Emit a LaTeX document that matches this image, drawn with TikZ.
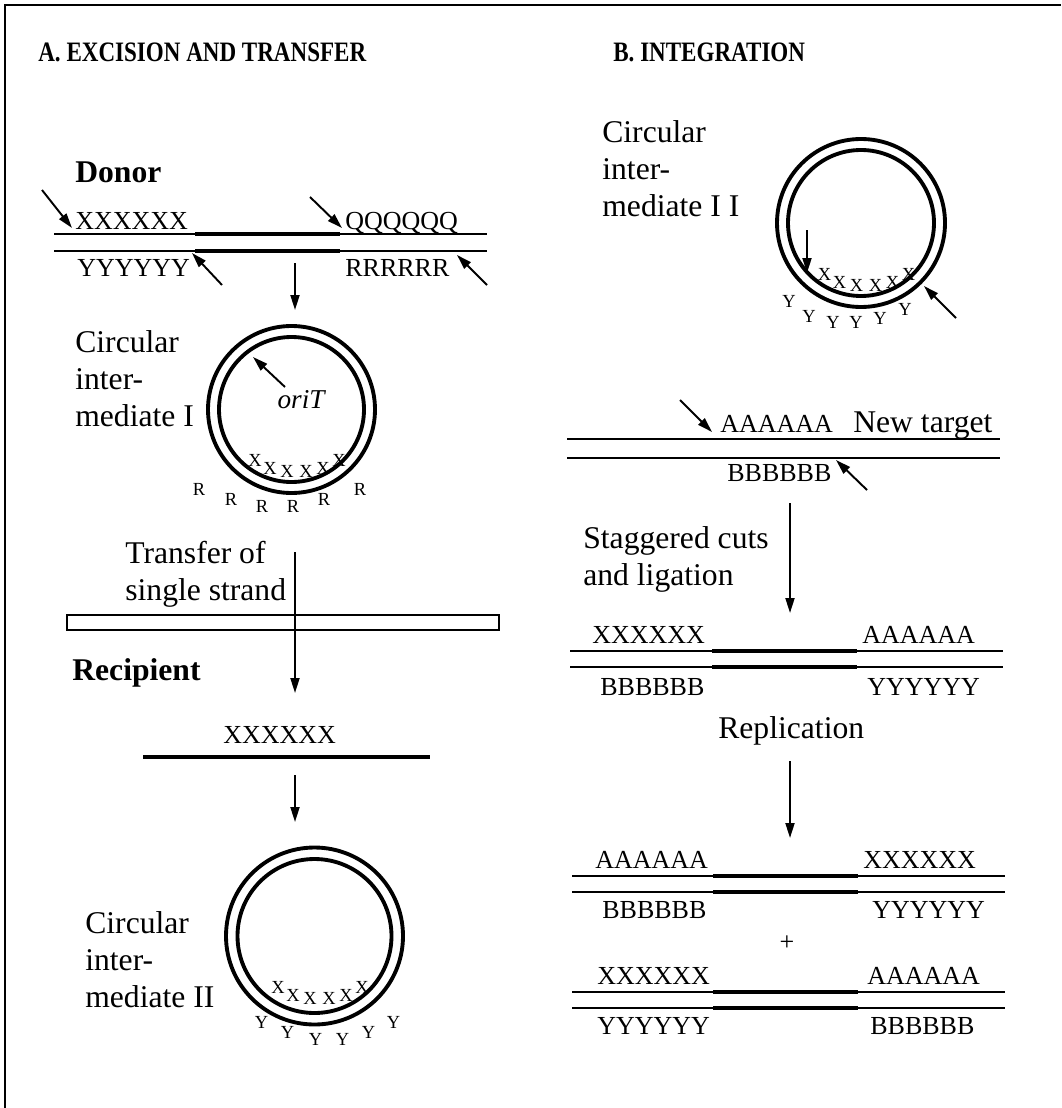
\documentclass[tikz,border=0pt]{standalone}
\usepackage{fontspec}
\setmainfont{Liberation Serif}
\usetikzlibrary{arrows.meta, calc}

\begin{document}
\begin{tikzpicture}[x=0.02cm, y=-0.02cm,
    strand/.style={line width=1.1pt},
    core/.style={line width=2.4pt},
    ring/.style={line width=2.2pt},
    ptr/.style={line width=1.1pt, -{Triangle[length=3mm, width=1.8mm]}},
    seq/.style={font=\fontsize{14.8}{16}\selectfont, inner sep=0pt, anchor=base west},
    txt/.style={font=\fontsize{18}{21}\selectfont, inner sep=0pt, anchor=base west},
    lbl/.style={font=\fontsize{18}{21}\selectfont, inner sep=0pt, anchor=north west, align=left},
    bold/.style={font=\fontsize{18}{21}\selectfont\bfseries, inner sep=0pt, anchor=base west},
    head/.style={font=\fontsize{16}{18}\selectfont\bfseries, inner sep=0pt, anchor=base west},
    site/.style={font=\fontsize{10.5}{12}\selectfont, inner sep=0pt}]
  \useasboundingbox (0,0) rectangle (1061,1108);
  \draw[line width=0.8pt] (5,1108) -- (5,5) -- (1061,5);

  % headings
  \node[head] (headA) at (38,62) {\scalebox{0.82}[1]{A. EXCISION AND TRANSFER}};
  \node[head] (headB) at (613,62) {\scalebox{0.82}[1]{B. INTEGRATION}};

  % ---- A: donor
  \node[bold] (donor) at (75,183) {Donor};
  \draw[strand] (54,234) -- (487,234) (54,251) -- (487,251);
  \draw[core] (195,234) -- (340,234) (195,251) -- (340,251);
  \node[seq] (dX) at (75,229.5) {XXXXXX};
  \node[seq] (dQ) at (345,229.5) {QQQQQQ};
  \node[seq] (dY) at (77,276) {YYYYYY};
  \node[seq] (dR) at (345,276) {RRRRRR};
  \coordinate (cut1s) at (42,190);  \coordinate (cut1) at (72,228);
  \coordinate (cut2s) at (310,197); \coordinate (cut2) at (342,228);
  \coordinate (cut3s) at (222,285); \coordinate (cut3) at (192,253);
  \coordinate (cut4s) at (487,285); \coordinate (cut4) at (457,255);
  \draw[ptr] (cut1s) -- (cut1);
  \draw[ptr] (cut2s) -- (cut2);
  \draw[ptr] (cut3s) -- (cut3);
  \draw[ptr] (cut4s) -- (cut4);
  \coordinate (st1) at (295,263); \coordinate (en1) at (295,310);
  \draw[ptr] (st1) -- (en1);

  % circular intermediate I
  \coordinate (cI) at (291.5,409.5);
  \draw[ring] (cI) circle (83.5) (cI) circle (72.5);
  \node[lbl] (ciI) at (75,330.5) {Circular\\inter-\\mediate I};
  \node[font=\fontsize{15.5}{17}\selectfont\itshape, inner sep=0pt] (oriT) at (301,400) {oriT};
  \coordinate (oriTs) at (285,387); \coordinate (oriTe) at (253,357);
  \draw[ptr] (oriTs) -- (oriTe);
  \foreach \dx/\dy [count=\i] in {-36.5/51, -21.5/59, -4.5/62, 14.5/62, 31.5/59, 47.5/51}
    \node[site] (xI\i) at ($(cI)+(\dx,\dy)$) {X};
  \foreach \dx/\dy [count=\i] in {-92.5/79.5, -60.5/89.5, -29.5/96.5, 1.5/96.5, 32.5/89.5, 68.5/79.5}
    \node[site] (rI\i) at ($(cI)+(\dx,\dy)$) {R};

  % transfer
  \node[lbl] (transfer) at (125,540.5) {Transfer of\\single strand};
  \draw[strand] (67,615) rectangle (499,630);
  \coordinate (st2) at (295,552); \coordinate (en2) at (295,693);
  \draw[ptr] (st2) -- (en2);

  % recipient
  \node[bold] (recip) at (72,680) {Recipient};
  \node[seq] (rX) at (223,743) {XXXXXX};
  \draw[core] (143,757) -- (430,757);
  \coordinate (st3) at (295,775); \coordinate (en3) at (295,822);
  \draw[ptr] (st3) -- (en3);

  % circular intermediate II
  \coordinate (cII) at (314.5,936);
  \draw[ring] (cII) circle (88.5) (cII) circle (77);
  \node[lbl] (ciII) at (85,911.5) {Circular\\inter-\\mediate II};
  \foreach \dx/\dy [count=\i] in {-36.5/51, -21.5/59, -4.5/62, 14.5/62, 31.5/59, 47.5/51}
    \node[site] (xII\i) at ($(cII)+(\dx,\dy)$) {X};
  \foreach \dx/\dy [count=\i] in {-53/86, -27/96, 1/103, 28/103, 54/96, 79/86}
    \node[site] (yII\i) at ($(cII)+(\dx,\dy)$) {Y};

  % ---- B: integration
  \node[lbl] (ciIII) at (602,120) {Circular\\inter-\\mediate I I};
  \coordinate (cIII) at (861,223);
  \draw[ring] (cIII) circle (84) (cIII) circle (73);
  \foreach \dx/\dy [count=\i] in {-36.5/51, -21.5/59, -4.5/62, 14.5/62, 31.5/59, 47.5/51}
    \node[site] (xIII\i) at ($(cIII)+(\dx,\dy)$) {X};
  \foreach \dx/\dy [count=\i] in {-72/78, -52/93, -28/99, -5/99, 19/95, 44/86}
    \node[site] (yIII\i) at ($(cIII)+(\dx,\dy)$) {Y};
  \coordinate (inS) at (807,230); \coordinate (inE) at (807,273);
  \draw[ptr] (inS) -- (inE);
  \coordinate (outS) at (956,318); \coordinate (outE) at (924,286);
  \draw[ptr] (outS) -- (outE);

  % new target
  \draw[strand] (567,439) -- (1000,439) (567,458) -- (1000,458);
  \node[seq] (tA) at (720,432.5) {AAAAAA};
  \node[txt] (newtgt) at (853,432.5) {New target};
  \node[seq] (tB) at (727,481) {BBBBBB};
  \coordinate (cut5s) at (680,400); \coordinate (cut5) at (712,432);
  \coordinate (cut6s) at (867,490); \coordinate (cut6) at (836,460);
  \draw[ptr] (cut5s) -- (cut5);
  \draw[ptr] (cut6s) -- (cut6);
  \coordinate (st4) at (790,503); \coordinate (en4) at (790,613);
  \draw[ptr] (st4) -- (en4);
  \node[lbl] (stag) at (583,526.5) {Staggered cuts\\and ligation};

  % integrated
  \draw[strand] (570,651) -- (1003,651) (570,667) -- (1003,667);
  \draw[core] (712,651) -- (857,651) (712,667) -- (857,667);
  \node[seq] (iX) at (592,643) {XXXXXX};
  \node[seq] (iA) at (862,643) {AAAAAA};
  \node[seq] (iB) at (600,695) {BBBBBB};
  \node[seq] (iY) at (867,695) {YYYYYY};
  \node[txt] (repl) at (718,738) {Replication};
  \coordinate (st5) at (790,761); \coordinate (en5) at (790,838);
  \draw[ptr] (st5) -- (en5);

  % products
  \draw[strand] (572,876) -- (1005,876) (572,892) -- (1005,892);
  \draw[core] (713,876) -- (858,876) (713,892) -- (858,892);
  \node[seq] (pA) at (595,868) {AAAAAA};
  \node[seq] (pX) at (863,868) {XXXXXX};
  \node[seq] (pB) at (602,918) {BBBBBB};
  \node[seq] (pY) at (872,918) {YYYYYY};
  \node[font=\fontsize{14.8}{16}\selectfont, inner sep=0pt] (plus) at (787,943) {+};
  \draw[strand] (572,992) -- (1005,992) (572,1008) -- (1005,1008);
  \draw[core] (713,992) -- (858,992) (713,1008) -- (858,1008);
  \node[seq] (qX) at (597,984) {XXXXXX};
  \node[seq] (qA) at (867,984) {AAAAAA};
  \node[seq] (qY) at (597,1034) {YYYYYY};
  \node[seq] (qB) at (870,1034) {BBBBBB};
\end{tikzpicture}
\end{document}
